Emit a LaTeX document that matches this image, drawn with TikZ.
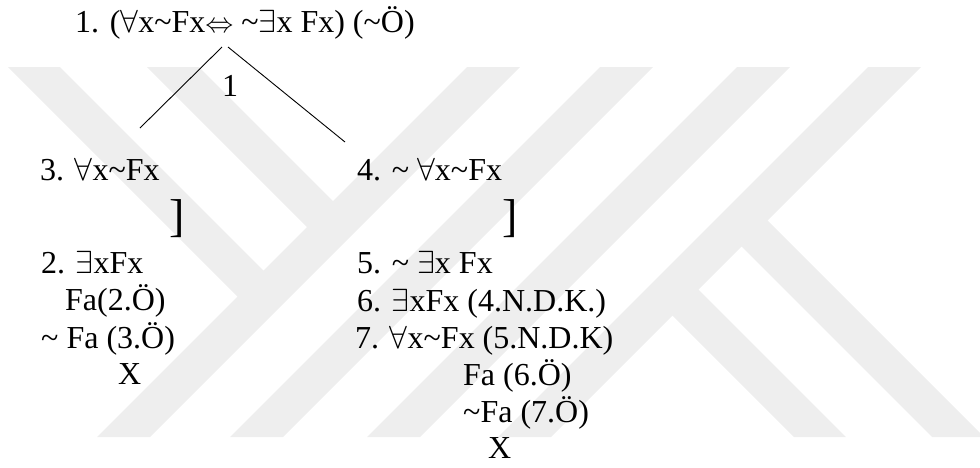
\RequirePackage{fix-cm}
\documentclass[tikz,border=0pt]{standalone}
\usepackage{fontspec}
\setmainfont{Liberation Serif}
\newcommand{\qall}{$\forall$}
\newcommand{\qex}{$\exists$}
\newcommand{\qiff}{{\fontsize{28}{28}\selectfont$\Leftrightarrow$}}
\newcommand{\nt}{\textasciitilde}
\definecolor{wmgray}{RGB}{238,238,238}
\begin{document}
\begin{tikzpicture}[x=1pt,y=-1pt,every node/.style={font=\fontsize{32}{37}\selectfont,inner sep=0pt,anchor=base west}]
\useasboundingbox (0,0) rectangle (980,467);
% watermark bands
\foreach \s in {534,667,804,935} {
  \fill[wmgray] ({\s-67},67) -- ({\s-14},67) -- ({\s-384},437) -- ({\s-437},437) -- cycle;
}
\foreach \d in {-59,80} {
  \fill[wmgray] ({\d+67},67) -- ({\d+119},67) -- ({(612+\d)/2},{(508-\d)/2}) -- ({(560+\d)/2},{(560-\d)/2}) -- cycle;
}
\foreach \d in {357,495} {
  \fill[wmgray] ({(962+\d)/2},{(962-\d)/2}) -- ({(1014+\d)/2},{(910-\d)/2}) -- ({\d+489},437) -- ({\d+437},437) -- cycle;
}
% root and branches
\node (root) at (75,32) {1. (\qall x\nt Fx\qiff\ \nt\qex x Fx) (\nt Ö)};
\node (one) at (222,96) {1};
\coordinate (rootl) at (222,47);
\coordinate (rootr) at (228,47);
\coordinate (tipl) at (140,128);
\coordinate (tipr) at (345,142);
\draw[line width=0.9pt] (rootl) -- (tipl);
\draw[line width=0.9pt] (rootr) -- (tipr);
% left branch
\node (l3) at (40,180) {3. \qall x\nt Fx};
\node (lbr) at (169,231) {\fontsize{46}{46}\selectfont ]};
\node (l2) at (41,273) {2. \qex xFx};
\node (lfa) at (65,310) {Fa(2.Ö)};
\node (lnfa) at (41,348) {\nt\ Fa (3.Ö)};
\node (lx) at (118,384) {X};
% right branch
\node (r4) at (357,180) {4. \nt\ \qall x\nt Fx};
\node (rbr) at (502,231) {\fontsize{46}{46}\selectfont ]};
\node (r5) at (357,273) {5. \nt\ \qex x Fx};
\node (r6) at (357,311) {6. \qex xFx (4.N.D.K.)};
\node (r7) at (355,348) {7. \qall x\nt Fx (5.N.D.K)};
\node (rfa) at (463,385) {Fa (6.Ö)};
\node (rnfa) at (463,422) {\nt Fa (7.Ö)};
\node (rx) at (488,458) {X};
\end{tikzpicture}
\end{document}
